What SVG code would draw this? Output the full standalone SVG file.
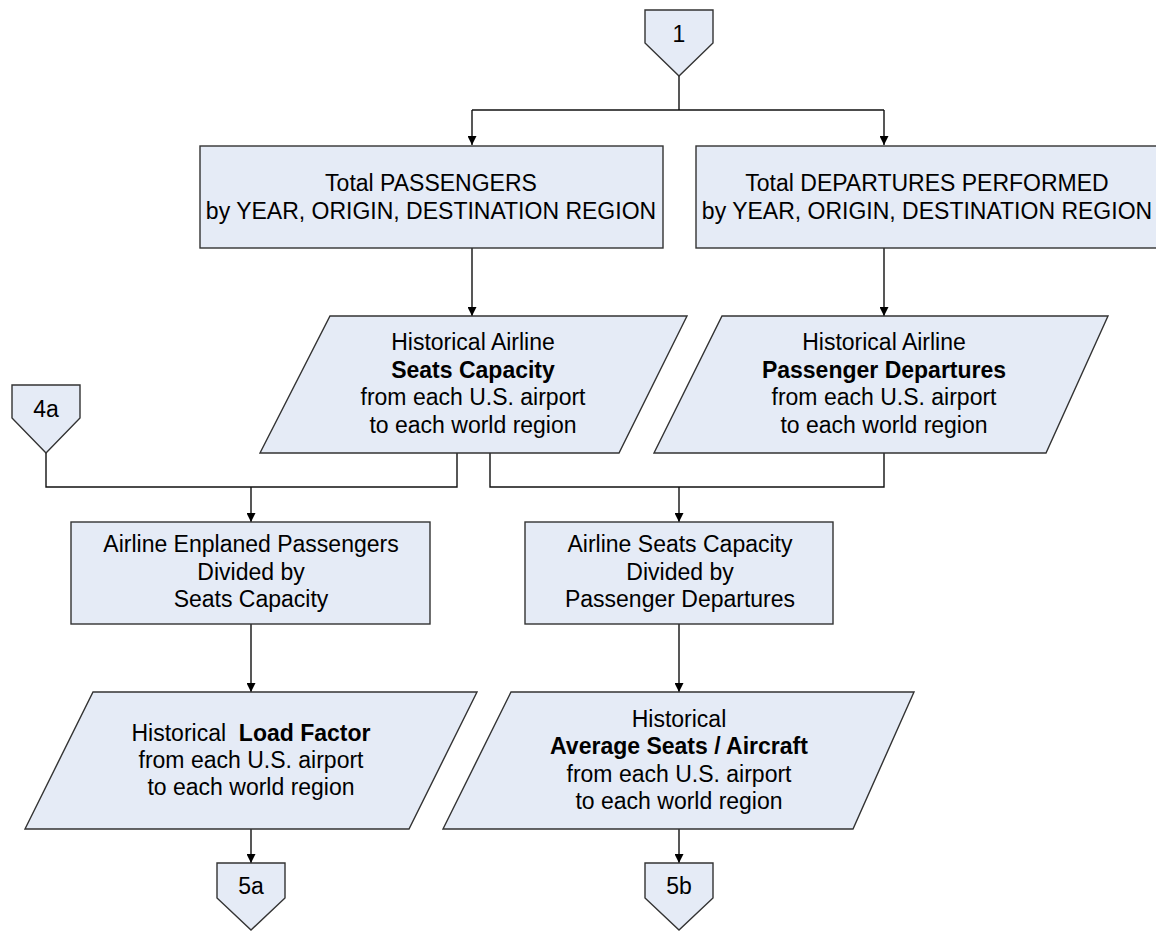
<svg xmlns="http://www.w3.org/2000/svg" width="1156" height="932" viewBox="0 0 1156 932">
  <defs>
    <marker id="arrow" viewBox="0 0 10 10" refX="10" refY="5" markerWidth="9" markerHeight="9" markerUnits="userSpaceOnUse" orient="auto">
      <path d="M0,0 L10,5 L0,10 z" fill="#000"/>
    </marker>
  </defs>
  <style>
    .shape { fill: #E5EBF6; stroke: #333; stroke-width: 1.4; }
    .conn { fill: none; stroke: #111; stroke-width: 1.4; }
    text { font-family: "Liberation Sans", Arial, sans-serif; font-size: 23px; fill: #000; text-anchor: middle; }
    .b { font-weight: bold; }
    .pre { white-space: pre; }
  </style>

  <rect width="1156" height="932" fill="#fff"/>

  <!-- connectors -->
  <g id="connectors">
    <path class="conn" d="M679,76 V110"/>
    <path class="conn" d="M472,110 H884"/>
    <path class="conn" d="M472,110 V145" marker-end="url(#arrow)"/>
    <path class="conn" d="M884,110 V145" marker-end="url(#arrow)"/>
    <path class="conn" d="M472,248 V316" marker-end="url(#arrow)"/>
    <path class="conn" d="M884,248 V316" marker-end="url(#arrow)"/>
    <path class="conn" d="M46,453 V487 H457 V453"/>
    <path class="conn" d="M251,487 V522" marker-end="url(#arrow)"/>
    <path class="conn" d="M490,453 V487 H884 V453"/>
    <path class="conn" d="M679,487 V522" marker-end="url(#arrow)"/>
    <path class="conn" d="M251,624 V692" marker-end="url(#arrow)"/>
    <path class="conn" d="M679,624 V692" marker-end="url(#arrow)"/>
    <path class="conn" d="M251,829 V863" marker-end="url(#arrow)"/>
    <path class="conn" d="M679,829 V863" marker-end="url(#arrow)"/>
  </g>

  <!-- off-page connector 1 -->
  <g id="node-1">
    <polygon class="shape" points="645,10 713,10 713,43 679,76 645,43"/>
    <text x="679" y="42">1</text>
  </g>

  <!-- off-page connector 4a -->
  <g id="node-4a">
    <polygon class="shape" points="12,385 80,385 80,418 46,453 12,418"/>
    <text x="46" y="417">4a</text>
  </g>

  <g id="total-passengers">
    <rect class="shape" x="200" y="146" width="463" height="102"/>
    <text x="431" y="190.5">Total PASSENGERS</text>
    <text x="431" y="219">by YEAR, ORIGIN, DESTINATION REGION</text>
  </g>

  <g id="total-departures">
    <rect class="shape" x="696" y="146" width="463" height="102"/>
    <text x="927" y="190.5">Total DEPARTURES PERFORMED</text>
    <text x="927" y="219">by YEAR, ORIGIN, DESTINATION REGION</text>
  </g>

  <g id="seats-capacity">
    <polygon class="shape" points="330,316 687,316 619,453 260,453"/>
    <text x="473" y="350">Historical Airline</text>
    <text x="473" y="377.5" class="b">Seats Capacity</text>
    <text x="473" y="405">from each U.S. airport</text>
    <text x="473" y="432.5">to each world region</text>
  </g>

  <g id="passenger-departures">
    <polygon class="shape" points="722,316 1108,316 1046,453 654,453"/>
    <text x="884" y="350">Historical Airline</text>
    <text x="884" y="377.5" class="b">Passenger Departures</text>
    <text x="884" y="405">from each U.S. airport</text>
    <text x="884" y="432.5">to each world region</text>
  </g>

  <g id="enplaned-div-seats">
    <rect class="shape" x="71" y="522" width="359" height="102"/>
    <text x="251" y="552">Airline Enplaned Passengers</text>
    <text x="251" y="579.5">Divided by</text>
    <text x="251" y="607">Seats Capacity</text>
  </g>

  <g id="seats-div-departures">
    <rect class="shape" x="525" y="522" width="308" height="102"/>
    <text x="680" y="552">Airline Seats Capacity</text>
    <text x="680" y="579.5">Divided by</text>
    <text x="680" y="607">Passenger Departures</text>
  </g>

  <g id="load-factor">
    <polygon class="shape" points="93,692 477,692 409,829 25,829"/>
    <text x="251" y="741" class="pre">Historical  <tspan class="b">Load Factor</tspan></text>
    <text x="251" y="768">from each U.S. airport</text>
    <text x="251" y="795">to each world region</text>
  </g>

  <g id="avg-seats-aircraft">
    <polygon class="shape" points="511,692 914,692 853,829 443,829"/>
    <text x="679" y="726.5">Historical</text>
    <text x="679" y="754" class="b">Average Seats / Aircraft</text>
    <text x="679" y="781.5">from each U.S. airport</text>
    <text x="679" y="809">to each world region</text>
  </g>

  <!-- off-page connector 5a -->
  <g id="node-5a">
    <polygon class="shape" points="217,863 285,863 285,898 251,930 217,898"/>
    <text x="251" y="894">5a</text>
  </g>

  <!-- off-page connector 5b -->
  <g id="node-5b">
    <polygon class="shape" points="645,863 713,863 713,898 679,930 645,898"/>
    <text x="679" y="894">5b</text>
  </g>
</svg>
